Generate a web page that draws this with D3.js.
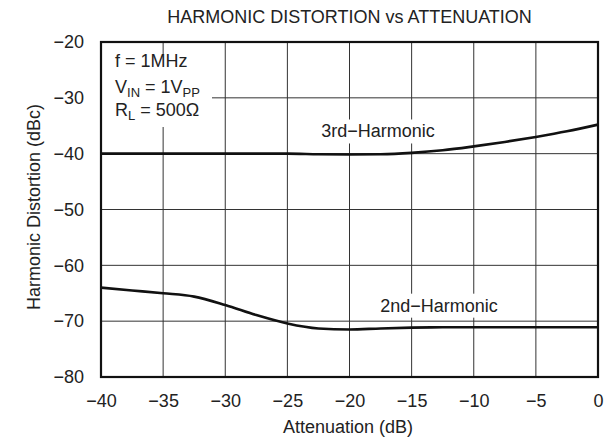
<!DOCTYPE html>
<html>
<head>
<meta charset="utf-8">
<script src="https://cdn.jsdelivr.net/npm/d3@7"></script>
<style>
  body { margin: 0; background: #fff; }
  text { font-family: "Liberation Sans", Arial, Helvetica, sans-serif; fill: #222; }
</style>
</head>
<body>
<div id="chart"></div>
<script>
var xTicks = [-40, -35, -30, -25, -20, -15, -10, -5, 0];
var yTicks = [-20, -30, -40, -50, -60, -70, -80];

var attenuation = [-40, -37.5, -35, -32.5, -30, -27.5, -25, -22.5, -20, -17.5, -15, -12.5, -10, -7.5, -5, -2.5, 0];
var thirdHarmonic = [-40, -40, -40, -40, -40, -40, -40, -40.1, -40.15, -40.1, -39.85, -39.4, -38.7, -37.9, -37, -36, -34.8];
var secondHarmonic = [-64, -64.5, -65, -65.6, -67.1, -68.9, -70.4, -71.3, -71.5, -71.3, -71.15, -71.1, -71.1, -71.1, -71.1, -71.1, -71.1];

var W = 616, H = 441
  , m = {left: 101, top: 42, right: 18, bottom: 64}
  , iw = W - m.left - m.right
  , ih = H - m.top - m.bottom
  , fs = '18px';

var svg = d3.select('#chart').append('svg')
  .attr('width', W)
  .attr('height', H);

var x = d3.scaleLinear().domain([-40, 0]).range([0, iw]);
var y = d3.scaleLinear().domain([-80, -20]).range([ih, 0]);

var g = svg.append('g').attr('transform', 'translate(' + m.left + ',' + m.top + ')');

//grid
g.selectAll('.vgrid').data(xTicks).enter().append('line')
  .attr('x1', function(d) { return x(d); }).attr('x2', function(d) { return x(d); })
  .attr('y1', 0).attr('y2', ih)
  .attr('stroke', '#333').attr('stroke-width', 1);
g.selectAll('.hgrid').data(yTicks).enter().append('line')
  .attr('y1', function(d) { return y(d); }).attr('y2', function(d) { return y(d); })
  .attr('x1', 0).attr('x2', iw)
  .attr('stroke', '#333').attr('stroke-width', 1);

//axes (labels only, frame drawn separately)
var fmt = function(d) { return d === 0 ? '0' : '\u2212' + Math.abs(d); };
var xAxis = g.append('g').attr('transform', 'translate(0,' + ih + ')')
  .call(d3.axisBottom(x).tickValues(xTicks).tickSize(0).tickPadding(17).tickFormat(fmt));
var yAxis = g.append('g')
  .call(d3.axisLeft(y).tickValues(yTicks).tickSize(0).tickPadding(17).tickFormat(fmt));
[xAxis, yAxis].forEach(function(a) {
  a.select('.domain').remove();
  a.selectAll('text').style('font-size', fs).attr('fill', '#222')
    .style('font-family', '"Liberation Sans", Arial, sans-serif');
});

//white boxes behind the labels
function label(txt, cx, baseline) {
  var t = g.append('text').attr('x', cx).attr('y', baseline)
    .attr('text-anchor', 'middle').style('font-size', fs).text(txt);
  var b = t.node().getBBox();
  g.insert('rect', function() { return t.node(); })
    .attr('x', b.x - 2).attr('y', b.y - 2).attr('width', b.width + 4).attr('height', b.height + 4)
    .attr('fill', '#fff');
}
label('3rd\u2212Harmonic', x(-17.7), y(-37.1));
label('2nd\u2212Harmonic', x(-12.8), y(-68.3));

//conditions box
g.append('rect').attr('x', 1).attr('y', 13).attr('width', 110).attr('height', 72).attr('fill', '#fff');
var note = g.append('g').attr('transform', 'translate(14,0)').style('font-size', fs);
note.append('text').attr('y', 25).text('f = 1MHz');
var v = note.append('text').attr('y', 51);
v.append('tspan').text('V');
v.append('tspan').attr('dy', 4).style('font-size', '13px').text('IN');
v.append('tspan').attr('dy', -4).text(' = 1V');
v.append('tspan').attr('dy', 4).style('font-size', '13px').text('PP');
var r = note.append('text').attr('y', 74);
r.append('tspan').text('R');
r.append('tspan').attr('dy', 4).style('font-size', '13px').text('L');
r.append('tspan').attr('dy', -4).text(' = 500\u03A9');

//curves
var line = d3.line()
  .x(function(d) { return x(d[0]); })
  .y(function(d) { return y(d[1]); })
  .curve(d3.curveMonotoneX);

[thirdHarmonic, secondHarmonic].forEach(function(s) {
  g.append('path')
    .datum(attenuation.map(function(a, i) { return [a, s[i]]; }))
    .attr('d', line)
    .attr('fill', 'none')
    .attr('stroke', '#111')
    .attr('stroke-width', 2.6);
});

//frame
g.append('rect').attr('width', iw).attr('height', ih)
  .attr('fill', 'none').attr('stroke', '#111').attr('stroke-width', 2.2);

//titles
svg.append('text').attr('x', m.left + iw / 2).attr('y', 23).attr('text-anchor', 'middle')
  .style('font-size', fs).text('HARMONIC DISTORTION vs ATTENUATION');
svg.append('text').attr('x', 348).attr('y', 433).attr('text-anchor', 'middle')
  .style('font-size', fs).text('Attenuation (dB)');
svg.append('text')
  .attr('transform', 'translate(40,207)rotate(-90)')
  .attr('text-anchor', 'middle')
  .style('font-size', fs).text('Harmonic Distortion (dBc)');
</script>
</body>
</html>
